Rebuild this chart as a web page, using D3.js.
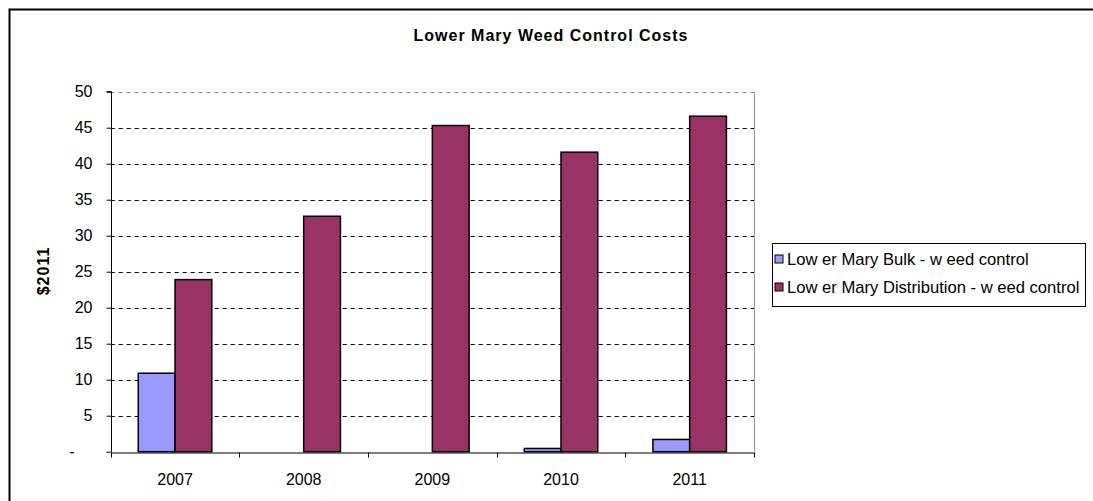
<!DOCTYPE html>
<html>
<head>
<meta charset="utf-8">
<script src="https://cdn.jsdelivr.net/npm/d3@7"></script>
<style>
  html, body { margin: 0; padding: 0; background: #fff; overflow: hidden; }
  svg { display: block; font-family: "Liberation Sans", Arial, sans-serif; }
</style>
</head>
<body>
<svg id="chart" width="1093" height="501"></svg>
<script>
// Weed control costs by year, in $2011
const years = ["2007", "2008", "2009", "2010", "2011"];
const bulkValues = [10.9, 0, 0, 0.45, 1.7];
const distributionValues = [23.9, 32.7, 45.3, 41.6, 46.6];
const seriesNames = ["Low er Mary Bulk - w eed control", "Low er Mary Distribution - w eed control"];
const seriesColors = ["#9999FF", "#993366"];
const yTicks = [0, 5, 10, 15, 20, 25, 30, 35, 40, 45, 50];

const svg = d3.select("#chart");

// outer chart frame (left and top edges fall inside the page)
svg.append("path")
  .attr("d", "M9.5,501V9.5H1093")
  .attr("fill", "none").attr("stroke", "#000").attr("stroke-width", 2);

const plot = { left: 110.7, right: 754, top: 91.7, bottom: 451.7 };

const x = d3.scaleBand().domain(years).range([plot.left, plot.right]).paddingInner(0).paddingOuter(0);
const y = d3.scaleLinear().domain([0, 50]).range([plot.bottom, plot.top]);

// plot area right border (gray)
svg.append("line")
  .attr("x1", Math.round(plot.right) + 0.5).attr("x2", Math.round(plot.right) + 0.5)
  .attr("y1", plot.top).attr("y2", plot.bottom)
  .attr("stroke", "#999").attr("stroke-width", 1);

// gridlines
svg.append("g")
  .selectAll("line")
  .data(yTicks.filter(d => d > 0))
  .join("line")
  .attr("x1", plot.left).attr("x2", plot.right)
  .attr("y1", d => Math.round(y(d)) + 0.5).attr("y2", d => Math.round(y(d)) + 0.5)
  .attr("stroke", d => d === 50 ? "#888" : "#000")
  .attr("stroke-width", 1)
  .attr("stroke-dasharray", "4,4");

// bars: gap width 150% of a bar
const bandW = x.bandwidth();
const barW = bandW / 3.5;
const groupOffset = (bandW - 2 * barW) / 2;
const series = [bulkValues, distributionValues];

series.forEach((vals, si) => {
  svg.append("g")
    .selectAll("rect")
    .data(vals.map((v, i) => ({ year: years[i], v })).filter(d => d.v > 0))
    .join("rect")
    .attr("x", d => x(d.year) + groupOffset + si * barW)
    .attr("y", d => y(d.v))
    .attr("width", barW)
    .attr("height", d => y(0) - y(d.v))
    .attr("fill", seriesColors[si])
    .attr("stroke", "#000")
    .attr("stroke-width", 1.5);
});

// y axis
const yAxis = d3.axisLeft(y)
  .tickValues(yTicks)
  .tickSize(5)
  .tickFormat(d => d === 0 ? "-" : d);
const yG = svg.append("g")
  .attr("transform", `translate(${Math.round(plot.left) + 0.5},0)`)
  .call(yAxis);
yG.select(".domain").attr("stroke", "#000").attr("d", `M-5,${y(50)}H0V${y(0)}`);
yG.selectAll(".tick line").attr("stroke", "#000");
yG.selectAll(".tick text")
  .attr("x", -19)
  .attr("font-size", 16)
  .attr("fill", "#000");
yG.selectAll(".tick").filter(d => d === 0).select("text").attr("x", -37);

// x axis
const xAxis = d3.axisBottom(x).tickSize(0).tickSizeOuter(0);
const xG = svg.append("g")
  .attr("transform", `translate(0,${Math.round(plot.bottom) + 0.5})`)
  .call(xAxis);
xG.select(".domain").attr("stroke", "#000");
xG.selectAll(".tick text")
  .attr("y", 32).attr("dy", null)
  .attr("font-size", 16)
  .attr("fill", "#000");
// category boundary ticks
xG.append("g")
  .selectAll("line")
  .data(years.map(d => x(d)).concat([plot.right]))
  .join("line")
  .attr("x1", d => Math.round(d) + 0.5).attr("x2", d => Math.round(d) + 0.5)
  .attr("y1", 0).attr("y2", 5)
  .attr("stroke", "#000");

// title
svg.append("text")
  .attr("x", 551).attr("y", 41)
  .attr("text-anchor", "middle")
  .attr("font-size", 16).attr("font-weight", "bold")
  .attr("letter-spacing", 1)
  .text("Lower Mary Weed Control Costs");

// y axis label
svg.append("text")
  .attr("transform", `translate(49,271) rotate(-90)`)
  .attr("text-anchor", "middle")
  .attr("font-size", 16).attr("font-weight", "bold")
  .attr("letter-spacing", 1)
  .text("$2011");

// legend
const legend = svg.append("g").attr("transform", "translate(772.5,243.5)");
legend.append("rect")
  .attr("width", 313).attr("height", 63)
  .attr("fill", "#fff").attr("stroke", "#000").attr("stroke-width", 1);
seriesNames.forEach((name, i) => {
  const row = legend.append("g").attr("transform", `translate(0,${15.5 + i * 28})`);
  row.append("rect")
    .attr("x", 2.5).attr("y", -4)
    .attr("width", 8).attr("height", 8)
    .attr("fill", seriesColors[i]).attr("stroke", "#000").attr("stroke-width", 1);
  row.append("text")
    .attr("x", 14.5).attr("y", 6)
    .attr("font-size", 16.6)
    .attr("fill", "#000")
    .text(name);
});
</script>
</body>
</html>
